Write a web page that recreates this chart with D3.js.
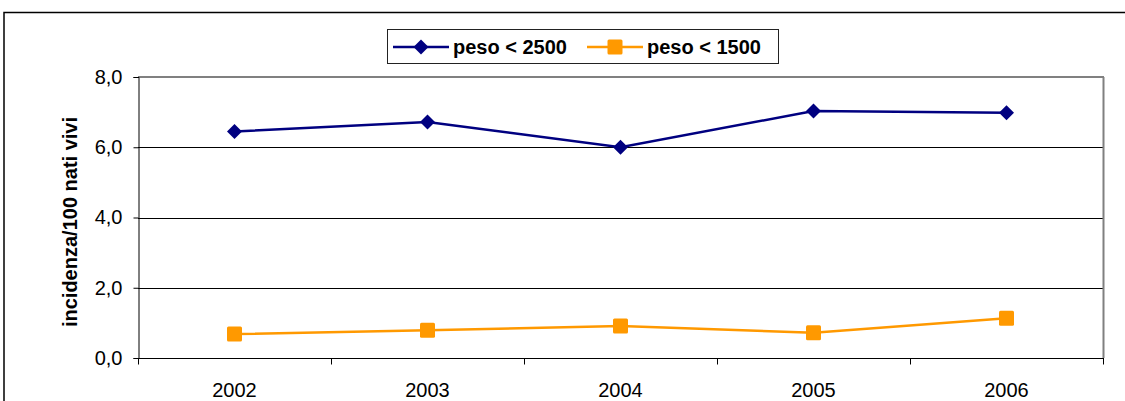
<!DOCTYPE html>
<html><head><meta charset="utf-8">
<script src="https://cdn.jsdelivr.net/npm/d3@7"></script>
<style>
body{margin:0;background:#fff;}
svg{display:block;font-family:Arial,"Liberation Sans",sans-serif;}
</style></head>
<body><svg id="c" width="1125" height="401"></svg>
<script>
const years = ["2002","2003","2004","2005","2006"];
const peso2500 = [6.45, 6.72, 6.0, 7.03, 6.98];
const peso1500 = [0.68, 0.79, 0.91, 0.72, 1.13];
const yTicks = [0, 2, 4, 6, 8];
const seriesNames = ["peso < 2500", "peso < 1500"];

const svg = d3.select("#c");
const L = 138, R = 1103, T = 77, B = 358;
const FS = 20;
const x = d3.scaleBand().domain(years).range([L, R]);
const y = d3.scaleLinear().domain([0, 8]).range([B, T]);
const fmt = d => d3.format(".1f")(d).replace(".", ",");

// outer frame
svg.append("rect").attr("x", 4).attr("y", 12.5).attr("width", 1130).attr("height", 400)
  .attr("fill", "none").attr("stroke", "#000").attr("stroke-width", 1.5);

// gridlines
svg.append("g").selectAll("line").data(yTicks.filter(d => d > 0 && d < 8)).join("line")
  .attr("x1", L).attr("x2", R).attr("y1", d => Math.round(y(d)) + 0.5).attr("y2", d => Math.round(y(d)) + 0.5)
  .attr("stroke", "#000").attr("stroke-width", 1);

// top & right border (gray)
svg.append("line").attr("x1", L).attr("x2", R + 1).attr("y1", T).attr("y2", T).attr("stroke", "#808080").attr("stroke-width", 2);
svg.append("line").attr("x1", R + 0.5).attr("x2", R + 0.5).attr("y1", T).attr("y2", B).attr("stroke", "#808080").attr("stroke-width", 2);

// y axis
const yAxis = d3.axisLeft(y).tickValues(yTicks).tickFormat(fmt).tickSize(5).tickPadding(11);
const gy = svg.append("g").attr("transform", `translate(${L + 0.5},0)`).call(yAxis);
gy.select(".domain").attr("stroke", "#000");
gy.selectAll(".tick line").attr("stroke", "#000");
gy.selectAll("text").attr("font-size", FS).attr("fill", "#000").attr("font-family", "Arial");

// x axis
const gx = svg.append("g").attr("transform", `translate(0,${B + 0.5})`)
  .call(d3.axisBottom(x).tickSize(0).tickPadding(24));
gx.select(".domain").attr("stroke", "#000").attr("d", `M${L},0H${R + 1}`);
gx.selectAll("text").attr("font-size", FS).attr("fill", "#000").attr("font-family", "Arial");
// boundary ticks
const bounds = years.map(d => x(d)).concat([x(years[years.length - 1]) + x.bandwidth()]);
gx.append("g").selectAll("line").data(bounds).join("line")
  .attr("x1", d => Math.round(d) + 0.5).attr("x2", d => Math.round(d) + 0.5).attr("y1", 0).attr("y2", 6)
  .attr("stroke", "#000");

// y label
svg.append("text").attr("transform", `translate(77,222) rotate(-90)`)
  .attr("text-anchor", "middle").attr("font-size", FS).attr("font-weight", "bold")
  .text("incidenza/100 nati vivi");

const cx = d => x(d) + x.bandwidth() / 2;
const line = d3.line().x((d, i) => cx(years[i])).y(d => y(d));
const navy = "#000080", orange = "#FF9900";

svg.append("path").datum(peso2500).attr("d", line).attr("fill", "none").attr("stroke", navy).attr("stroke-width", 2.5);
svg.append("path").datum(peso1500).attr("d", line).attr("fill", "none").attr("stroke", orange).attr("stroke-width", 2.5);

function diamondPath(cxv, cyv, r) { return `M${cxv},${cyv - r}L${cxv + r},${cyv}L${cxv},${cyv + r}L${cxv - r},${cyv}Z`; }

svg.append("g").selectAll("path").data(peso2500).join("path")
  .attr("d", (d, i) => diamondPath(cx(years[i]), y(d), 7.5)).attr("fill", navy);
svg.append("g").selectAll("rect").data(peso1500).join("rect")
  .attr("x", (d, i) => cx(years[i]) - 7.5).attr("y", d => y(d) - 7.5)
  .attr("width", 15).attr("height", 15).attr("rx", 1.5).attr("fill", orange);

// legend
const lg = svg.append("g");
lg.append("rect").attr("x", 387.5).attr("y", 29.5).attr("width", 391).attr("height", 34)
  .attr("fill", "#fff").attr("stroke", "#222").attr("stroke-width", 1);
const items = [{name: seriesNames[0], color: navy, x0: 393, shape: "d"}, {name: seriesNames[1], color: orange, x0: 587, shape: "s"}];
items.forEach(it => {
  const ly = 47;
  lg.append("line").attr("x1", it.x0).attr("x2", it.x0 + 56).attr("y1", ly).attr("y2", ly).attr("stroke", it.color).attr("stroke-width", 2.5);
  if (it.shape === "d") lg.append("path").attr("d", diamondPath(it.x0 + 28, ly, 7.5)).attr("fill", it.color);
  else lg.append("rect").attr("x", it.x0 + 28 - 7.5).attr("y", ly - 7.5).attr("width", 15).attr("height", 15).attr("rx", 1.5).attr("fill", it.color);
  lg.append("text").attr("x", it.x0 + 60).attr("y", ly + 7).attr("font-size", FS).attr("font-weight", "bold").text(it.name);
});
</script></body></html>
